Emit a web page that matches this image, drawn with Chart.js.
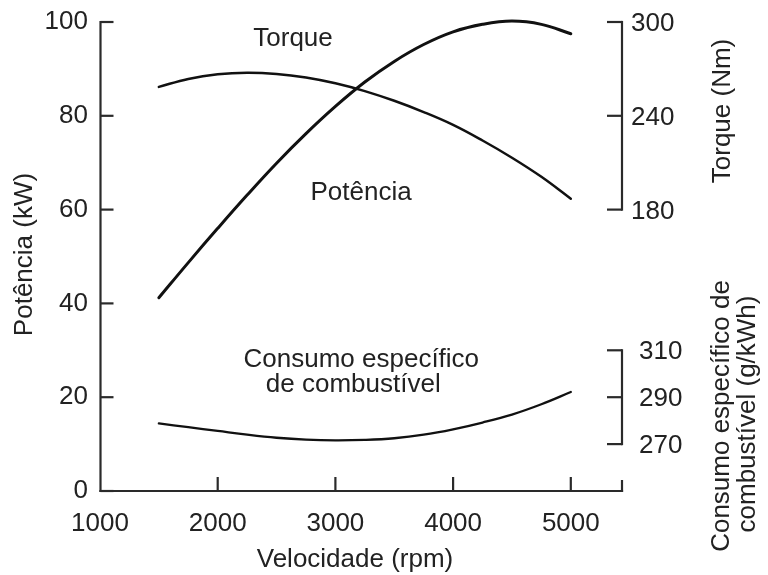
<!DOCTYPE html>
<html>
<head>
<meta charset="utf-8">
<script src="https://cdn.jsdelivr.net/npm/chart.js@4.4.1/dist/chart.umd.min.js"></script>
<style>
  html, body { margin: 0; padding: 0; background: #fff; }
  #wrap { width: 768px; height: 575px; }
</style>
</head>
<body>
<div id="wrap"><canvas id="c" width="768" height="575"></canvas></div>
<script>
// Engine speed (rpm) at which the curves are sampled
const rpm = [1500, 1750, 2000, 2250, 2500, 2750, 3000, 3250, 3500, 3750, 4000, 4250, 4500, 4750, 5000];
// Power (kW)
const powerKW = [41.2, 48.7, 56.0, 63.1, 69.9, 76.2, 82.0, 87.2, 91.6, 95.2, 97.9, 99.5, 100.2, 99.5, 97.5];
// Torque (Nm)
const torqueNm = [258.5, 263.6, 266.6, 267.6, 266.8, 264.5, 260.8, 255.8, 249.6, 242.4, 234.2, 224.2, 213.2, 201.0, 187.0];
// Specific fuel consumption (g/kWh)
const consumoGkWh = [278.8, 277.2, 275.6, 274.0, 272.7, 271.9, 271.6, 271.8, 272.5, 274.0, 276.3, 279.2, 282.6, 287.0, 292.2];

// Tick labels
const rpmTicks = [1000, 2000, 3000, 4000, 5000];
const powerTicks = [0, 20, 40, 60, 80, 100];
const torqueTicks = [180, 240, 300];
const consumoTicks = [270, 290, 310];

const FONT = '"Liberation Sans", Arial, Helvetica, sans-serif';
const FONT_SIZE = 26;
const TEXT = '#222';
const AXIS = '#2a2a2a';
const INK = '#111';

const toPoints = (ys) => rpm.map((r, i) => ({ x: r, y: ys[i] }));

// Curve names, anchored in data units (rpm, kW)
const curveNames = [
  { text: 'Torque', rpm: 2640, kw: 94.8 },
  { text: 'Potência', rpm: 3218, kw: 62.1 },
  { text: 'Consumo específico', rpm: 3220, kw: 26.4 },
  { text: 'de combustível', rpm: 3152, kw: 21.1 }
];

// keep the plot area fixed: no extra room for the end labels
const noLabelPadding = (s) => { s.paddingTop = 0; s.paddingBottom = 0; s.paddingLeft = 0; s.paddingRight = 0; };

const axesPlugin = {
  id: 'engineAxes',
  afterDraw(chart) {
    const { ctx, chartArea: a, scales } = chart;
    const sx = scales.x, sy = scales.y, st = scales.yTorque, sc = scales.yConsumo;
    const seg = (x1, y1, x2, y2) => { ctx.beginPath(); ctx.moveTo(x1, y1); ctx.lineTo(x2, y2); ctx.stroke(); };
    ctx.save();
    ctx.strokeStyle = AXIS;
    ctx.lineWidth = 2.2;
    ctx.lineCap = 'square';

    // power axis (left) and speed axis (bottom)
    const xl = a.left + 0.5;
    seg(xl, sy.getPixelForValue(100), xl, a.bottom);
    seg(xl, a.bottom, a.right, a.bottom);
    ctx.lineCap = 'butt';
    powerTicks.forEach(v => { const y = sy.getPixelForValue(v); seg(xl, y, xl + 13, y); });
    rpmTicks.slice(1).forEach(v => { const x = sx.getPixelForValue(v); seg(x, a.bottom, x, a.bottom - 14); });
    seg(a.right, a.bottom + 1, a.right, a.bottom - 11);

    // torque and fuel-consumption axes (right)
    const xr = a.right;
    ctx.lineCap = 'square';
    seg(xr, st.getPixelForValue(torqueTicks[0]), xr, st.getPixelForValue(torqueTicks[torqueTicks.length - 1]));
    seg(xr, sc.getPixelForValue(consumoTicks[0]), xr, sc.getPixelForValue(consumoTicks[consumoTicks.length - 1]));
    ctx.lineCap = 'butt';
    torqueTicks.forEach(v => { const y = st.getPixelForValue(v); seg(xr - 15, y, xr, y); });
    consumoTicks.forEach(v => { const y = sc.getPixelForValue(v); seg(xr - 15, y, xr, y); });

    ctx.fillStyle = TEXT;
    ctx.font = FONT_SIZE + 'px ' + FONT;
    ctx.textAlign = 'left';
    ctx.textBaseline = 'middle';
    torqueTicks.forEach(v => ctx.fillText(String(v), xr + 9, st.getPixelForValue(v) + 2));
    consumoTicks.forEach(v => ctx.fillText(String(v), xr + 17, sc.getPixelForValue(v) + 2));

    // curve names
    ctx.textAlign = 'center';
    ctx.textBaseline = 'alphabetic';
    curveNames.forEach(n => ctx.fillText(n.text, sx.getPixelForValue(n.rpm), sy.getPixelForValue(n.kw)));

    // axis titles
    ctx.textBaseline = 'middle';
    ctx.fillText('Velocidade (rpm)', 355, 559.5);
    const vtext = (t, x, y) => {
      ctx.save(); ctx.translate(x, y); ctx.rotate(-Math.PI / 2); ctx.fillText(t, 0, 0); ctx.restore();
    };
    vtext('Potência (kW)', 24.5, 254.5);
    vtext('Torque (Nm)', xr + 101, 111);
    vtext('Consumo específico de', xr + 100, 416);
    vtext('combustível (g/kWh)', xr + 126, 414);
    ctx.restore();
  }
};

new Chart(document.getElementById('c'), {
  type: 'line',
  data: {
    datasets: [
      { label: 'Potência', data: toPoints(powerKW), yAxisID: 'y', borderColor: INK, borderWidth: 3 },
      { label: 'Torque', data: toPoints(torqueNm), yAxisID: 'yTorque', borderColor: INK, borderWidth: 2.5 },
      { label: 'Consumo específico de combustível', data: toPoints(consumoGkWh), yAxisID: 'yConsumo', borderColor: INK, borderWidth: 2.3 }
    ]
  },
  options: {
    responsive: false,
    animation: false,
    devicePixelRatio: 1,
    layout: { padding: { left: 0, right: 146, top: 22, bottom: 0 } },
    datasets: { line: { clip: false } },
    elements: {
      point: { radius: 0, hoverRadius: 0 },
      line: { fill: false, tension: 0.4, borderCapStyle: 'round' }
    },
    plugins: { legend: { display: false }, tooltip: { enabled: false } },
    scales: {
      x: {
        type: 'linear', min: 1000, max: 5435,
        grid: { display: false, drawTicks: false },
        border: { display: false },
        afterBuildTicks: s => { s.ticks = rpmTicks.map(v => ({ value: v })); },
        afterFit: s => { s.height = 84; noLabelPadding(s); },
        ticks: {
          autoSkip: false, maxRotation: 0, padding: 17, color: TEXT,
          font: { family: FONT, size: FONT_SIZE },
          callback: v => String(v)
        }
      },
      y: {
        type: 'linear', position: 'left', min: 0, max: 100,
        grid: { display: false, drawTicks: false },
        border: { display: false },
        afterBuildTicks: s => { s.ticks = powerTicks.map(v => ({ value: v })); },
        afterFit: s => { s.width = 100; noLabelPadding(s); },
        ticks: {
          padding: 12, color: TEXT,
          font: { family: FONT, size: FONT_SIZE },
          callback: v => String(v)
        }
      },
      yTorque: { type: 'linear', position: 'right', min: 0, max: 300, display: false },
      yConsumo: { type: 'linear', position: 'right', min: 250, max: 450, display: false }
    }
  },
  plugins: [axesPlugin]
});
</script>
</body>
</html>
